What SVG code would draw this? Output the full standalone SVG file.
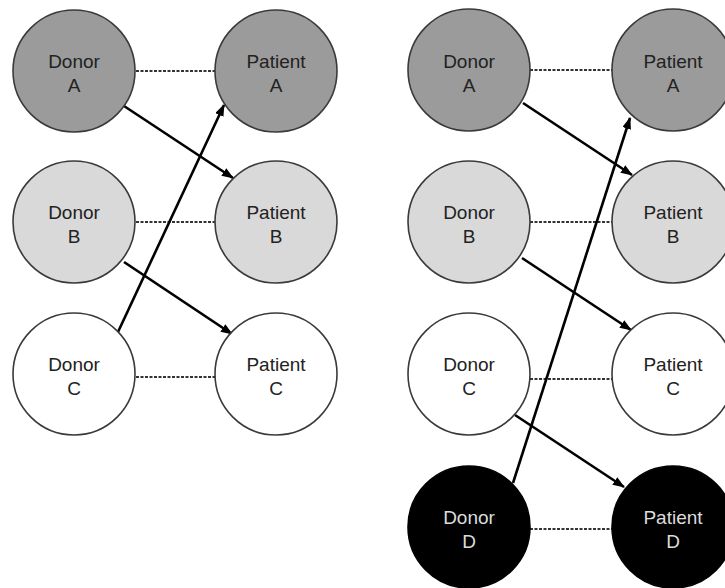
<svg xmlns="http://www.w3.org/2000/svg" width="725" height="588" viewBox="0 0 725 588">
<style>
  .n { stroke: #3a3a3a; stroke-width: 1.6; }
  .dk { fill: #9b9b9b; }
  .lt { fill: #d9d9d9; }
  .wh { fill: #ffffff; }
  .bk { fill: #000000; stroke: #000; }
  text { font-family: "Liberation Sans", Arial, sans-serif; font-size: 19px; text-anchor: middle; fill: #222; }
  .inv { fill: #dcdcdc; }
  .dash { stroke: #333; stroke-width: 1.8; stroke-dasharray: 3 1.5; fill: none; }
  .arr { stroke: #000; stroke-width: 2.6; fill: none; marker-end: url(#ah); }
</style>
<defs>
  <marker id="ah" markerUnits="userSpaceOnUse" markerWidth="12" markerHeight="9" refX="11" refY="4.5" orient="auto">
    <path d="M0,0 L12,4.5 L0,9 z" fill="#000"/>
  </marker>
</defs>
<rect width="725" height="588" fill="#fff"/>

<g id="connectors">
  <line class="dash" x1="136" y1="71" x2="215" y2="71"/>
  <line class="dash" x1="136" y1="222" x2="215" y2="222"/>
  <line class="dash" x1="136" y1="377" x2="215" y2="377"/>
  <line class="dash" x1="530" y1="70" x2="612" y2="70"/>
  <line class="dash" x1="530" y1="222" x2="612" y2="222"/>
  <line class="dash" x1="530" y1="379" x2="612" y2="379"/>
  <line class="dash" x1="530" y1="529" x2="612" y2="529"/>
  <line class="arr" x1="124" y1="106" x2="233" y2="178"/>
  <line class="arr" x1="124" y1="262" x2="232" y2="334"/>
  <line class="arr" x1="118" y1="332" x2="224" y2="105"/>
  <line class="arr" x1="523" y1="103" x2="632" y2="175"/>
  <line class="arr" x1="522" y1="258" x2="631" y2="330"/>
  <line class="arr" x1="515" y1="415" x2="624" y2="487"/>
  <line class="arr" x1="513" y1="483" x2="630" y2="118"/>
</g>

<g id="L-donor-A"><circle class="n dk" cx="74" cy="71" r="61"/><text x="74" y="68">Donor</text><text x="74" y="92">A</text></g>
<g id="L-patient-A"><circle class="n dk" cx="276" cy="71" r="61"/><text x="276" y="68">Patient</text><text x="276" y="92">A</text></g>
<g id="L-donor-B"><circle class="n lt" cx="74" cy="222" r="61"/><text x="74" y="219">Donor</text><text x="74" y="243">B</text></g>
<g id="L-patient-B"><circle class="n lt" cx="276" cy="222" r="61"/><text x="276" y="219">Patient</text><text x="276" y="243">B</text></g>
<g id="L-donor-C"><circle class="n wh" cx="74" cy="374" r="61"/><text x="74" y="371">Donor</text><text x="74" y="395">C</text></g>
<g id="L-patient-C"><circle class="n wh" cx="276" cy="374" r="61"/><text x="276" y="371">Patient</text><text x="276" y="395">C</text></g>

<g id="R-donor-A"><circle class="n dk" cx="469" cy="70" r="61"/><text x="469" y="68">Donor</text><text x="469" y="92">A</text></g>
<g id="R-patient-A"><circle class="n dk" cx="673" cy="70" r="61"/><text x="673" y="68">Patient</text><text x="673" y="92">A</text></g>
<g id="R-donor-B"><circle class="n lt" cx="469" cy="222" r="61"/><text x="469" y="219">Donor</text><text x="469" y="243">B</text></g>
<g id="R-patient-B"><circle class="n lt" cx="673" cy="222" r="61"/><text x="673" y="219">Patient</text><text x="673" y="243">B</text></g>
<g id="R-donor-C"><circle class="n wh" cx="469" cy="374" r="61"/><text x="469" y="371">Donor</text><text x="469" y="395">C</text></g>
<g id="R-patient-C"><circle class="n wh" cx="673" cy="374" r="61"/><text x="673" y="371">Patient</text><text x="673" y="395">C</text></g>
<g id="R-donor-D"><circle class="n bk" cx="469" cy="527" r="61"/><text class="inv" x="469" y="524">Donor</text><text class="inv" x="469" y="548">D</text></g>
<g id="R-patient-D"><circle class="n bk" cx="673" cy="527" r="61"/><text class="inv" x="673" y="524">Patient</text><text class="inv" x="673" y="548">D</text></g>
</svg>
